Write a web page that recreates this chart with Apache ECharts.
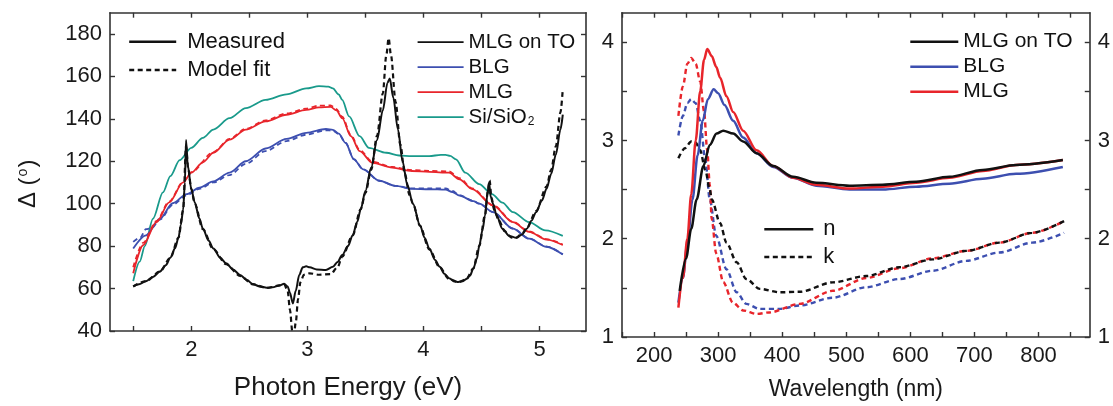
<!DOCTYPE html>
<html>
<head>
<meta charset="utf-8">
<script src="https://cdn.jsdelivr.net/npm/echarts@6/dist/echarts.min.js"></script>
<style>
  html, body { margin: 0; padding: 0; background: #fff; }
  #chart { width: 1113px; height: 406px; }
</style>
</head>
<body>
<div id="chart"></div>
<script>
// ---- left panel: Delta vs photon energy (eV) ----
const energyTicks = [1.5, 2, 2.5, 3, 3.5, 4, 4.5, 5];
const energyLabels = [2, 3, 4, 5];
const deltaTicks = [40, 60, 80, 100, 120, 140, 160, 180];

const mlgOnToMeasured = [[1.5,61],[1.55,62],[1.61,63.5],[1.67,65.5],[1.73,68],[1.78,71],[1.82,74.5],[1.86,79],[1.89,84],[1.91,90],[1.93,97],[1.945,110],[1.955,130],[1.97,118],[2.0,107],[2.03,100.6],[2.07,93],[2.1,88.2],[2.15,82.5],[2.19,78.9],[2.25,74.5],[2.3,71.9],[2.36,69],[2.42,66.4],[2.48,64],[2.53,62.1],[2.59,61],[2.65,60.4],[2.7,60.6],[2.76,61.5],[2.8,62.3],[2.83,61],[2.85,58],[2.875,53],[2.9,59],[2.93,66.4],[2.96,70],[2.99,70.5],[3.02,70],[3.08,69],[3.16,68.8],[3.22,70.3],[3.26,72.5],[3.3,75.8],[3.35,80],[3.39,85.1],[3.43,91.5],[3.46,97.5],[3.5,106],[3.55,117],[3.6,130],[3.65,144],[3.69,157],[3.71,159],[3.74,150],[3.78,135],[3.82,120],[3.86,109],[3.91,100],[3.97,89.8],[4.01,84],[4.05,78.9],[4.1,73.5],[4.14,70.3],[4.18,67],[4.22,64.9],[4.27,63.3],[4.3,63.1],[4.34,63.5],[4.37,64.5],[4.4,66],[4.43,69.5],[4.46,74],[4.48,80],[4.51,88],[4.53,94.4],[4.55,104],[4.565,110],[4.58,103],[4.6,100],[4.63,94.4],[4.68,88.2],[4.74,84.8],[4.8,83.9],[4.85,85.5],[4.89,88.2],[4.93,92],[4.97,96],[5.02,101.5],[5.06,107],[5.1,114],[5.14,123],[5.18,135],[5.2,142]];
const mlgOnToFit = [[1.5,61],[1.61,63.5],[1.73,68],[1.82,74.5],[1.89,84],[1.93,97],[1.955,127],[1.975,116],[2.0,107],[2.03,100],[2.1,88],[2.19,78.5],[2.3,71.5],[2.42,66],[2.53,62],[2.65,60.3],[2.76,61.5],[2.8,62],[2.83,59],[2.85,50],[2.87,40],[2.88,36],[2.9,44],[2.92,55],[2.94,63],[2.97,66.5],[3.02,67.2],[3.1,66.5],[3.2,66.8],[3.26,70],[3.3,75],[3.39,85],[3.46,97.5],[3.5,105],[3.55,116],[3.6,132],[3.65,152],[3.68,170],[3.7,178],[3.72,170],[3.76,148],[3.8,128],[3.84,114],[3.88,104],[3.91,100],[3.97,89.5],[4.05,78.5],[4.14,70],[4.22,64.5],[4.3,63],[4.37,64.5],[4.43,69.5],[4.48,80],[4.53,94.5],[4.555,106],[4.57,111],[4.585,103],[4.61,97],[4.65,92],[4.7,87],[4.76,84],[4.8,84],[4.85,86],[4.89,88.5],[4.97,96.5],[5.06,108],[5.1,116],[5.14,127],[5.18,143],[5.2,154]];
const siSio2Measured = [[1.5,63.5],[1.556,72.7],[1.6,80],[1.67,92.9],[1.756,105.3],[1.82,113],[1.9,120.5],[2.0,126.3],[2.1,131],[2.19,134.9],[2.33,140.3],[2.47,145],[2.64,148.9],[2.82,151.5],[2.99,154.3],[3.1,155.4],[3.18,155.2],[3.22,154.3],[3.27,151.5],[3.3,148.9],[3.36,141.1],[3.45,131.8],[3.53,126.3],[3.68,124],[3.79,122.7],[3.9,122.4],[4.05,122.4],[4.15,123],[4.19,123],[4.23,122.5],[4.28,120.9],[4.36,114.6],[4.48,109.2],[4.59,104.5],[4.68,100.5],[4.77,96],[4.91,91.3],[5.05,87.4],[5.2,84.8]];
const mlgMeasured = [[1.5,67.2],[1.585,80.4],[1.7,91.3],[1.81,100.6],[1.93,110],[2.0,114.6],[2.1,119.5],[2.19,124],[2.33,130.2],[2.47,134.9],[2.64,138.8],[2.82,141.9],[2.99,144.2],[3.1,145.4],[3.2,145.6],[3.25,144],[3.3,140.3],[3.375,131.8],[3.45,124.8],[3.56,119.3],[3.73,117],[3.9,115.4],[4.05,115],[4.22,114.6],[4.31,111.5],[4.42,106.9],[4.6,99.1],[4.77,91.3],[4.91,86.7],[5.06,83.1],[5.2,80.5]];
const mlgFit = [[1.5,70],[1.585,81.5],[1.7,91.8],[1.81,101],[1.93,110.3],[2.0,114.8],[2.19,124.3],[2.33,130.5],[2.47,135.3],[2.64,139.3],[2.82,142.5],[2.99,144.8],[3.1,146.2],[3.2,146.3],[3.25,144.6],[3.3,141],[3.375,132.3],[3.45,125.3],[3.56,119.8],[3.73,117.3],[3.9,115.8],[4.05,115.5],[4.22,115.2],[4.31,112],[4.42,107.2],[4.6,99.3],[4.77,91.5],[4.91,86.9],[5.06,83.3],[5.2,80.7]];
const blgMeasured = [[1.5,78.9],[1.61,85.1],[1.73,92.9],[1.84,100.2],[1.96,104.5],[2.07,107.5],[2.19,110.5],[2.33,114.6],[2.47,120],[2.64,126],[2.82,130.5],[2.99,133.4],[3.16,135.2],[3.22,134.8],[3.27,133],[3.33,128.6],[3.4,120.9],[3.48,116.2],[3.62,110.8],[3.76,108.4],[3.9,107],[4.05,106.8],[4.19,106.6],[4.25,105.5],[4.31,103.8],[4.43,101.2],[4.48,100],[4.6,96],[4.77,88.2],[4.91,83.5],[5.06,79.7],[5.2,76]];
const blgFit = [[1.5,82],[1.56,84],[1.61,88],[1.66,88.5],[1.73,92.5],[1.84,99.5],[1.96,104],[2.07,107],[2.19,110],[2.33,113.5],[2.47,118.8],[2.64,124.8],[2.82,129.5],[2.99,132.5],[3.16,134.6],[3.22,134.4],[3.27,132.8],[3.33,128.6],[3.4,121],[3.48,116.2],[3.62,110.8],[3.76,108.4],[3.9,107.2],[4.05,107.2],[4.19,107.2],[4.25,106],[4.31,104],[4.43,101.3],[4.48,100],[4.6,96],[4.77,88.3],[4.91,83.6],[5.06,79.8],[5.2,76.2]];

// ---- right panel: n and k vs wavelength (nm) ----
const wlTicks = [150, 200, 250, 300, 350, 400, 450, 500, 550, 600, 650, 700, 750, 800, 850];
const wlLabels = [200, 300, 400, 500, 600, 700, 800];
const nkTicks = [1, 1.5, 2, 2.5, 3, 3.5, 4];
const nkLabels = [1, 2, 3, 4];

const nMlgOnTo = [[240,1.47],[250,1.8],[258,2.1],[266.5,2.4],[277,2.74],[287,2.955],[297.6,3.07],[308,3.1],[323.5,3.07],[339,2.99],[360,2.87],[386,2.74],[417,2.63],[453,2.57],[505,2.54],[557,2.55],[609,2.58],[661,2.63],[713,2.7],[765,2.75],[838,2.8]];
const nBlg = [[238,1.35],[245,1.6],[252,1.95],[260,2.4],[268,2.85],[276,3.2],[284,3.42],[293,3.52],[300,3.48],[310,3.36],[323.5,3.2],[339,3.03],[360,2.87],[386,2.73],[417,2.62],[453,2.54],[505,2.5],[557,2.5],[609,2.53],[661,2.56],[713,2.61],[765,2.66],[838,2.73]];
const nMlg = [[238,1.3],[245,1.6],[252,2.0],[258,2.45],[265,3.0],[272,3.5],[278,3.82],[283,3.93],[290,3.86],[297,3.75],[303,3.64],[313,3.45],[323.5,3.29],[339,3.1],[360,2.9],[386,2.74],[417,2.62],[453,2.55],[505,2.51],[557,2.53],[609,2.57],[661,2.62],[713,2.69],[765,2.75],[838,2.8]];
const kMlgOnTo = [[238,2.82],[248,2.92],[258,2.99],[265,2.98],[272,2.9],[280,2.7],[287,2.5],[290,2.4],[303,2.16],[313,1.96],[329,1.76],[344,1.59],[365,1.49],[396,1.455],[427,1.46],[479,1.556],[531,1.62],[583,1.71],[635,1.79],[687,1.876],[739,1.96],[790,2.06],[840,2.18]];
const kBlg = [[238,3.05],[245,3.25],[252,3.38],[258,3.42],[265,3.38],[272,3.2],[280,2.8],[287,2.4],[297,2.03],[313,1.69],[329,1.455],[344,1.337],[365,1.286],[396,1.286],[427,1.32],[479,1.4],[531,1.506],[583,1.59],[635,1.674],[687,1.775],[739,1.86],[790,1.96],[840,2.06]];
const kMlg = [[238,3.25],[245,3.55],[252,3.78],[258,3.84],[265,3.78],[272,3.6],[278,3.3],[283,2.9],[287,2.55],[290,2.2],[297,1.85],[308,1.56],[323,1.35],[339,1.27],[360,1.235],[380,1.25],[427,1.337],[479,1.47],[531,1.6],[583,1.7],[635,1.8],[687,1.876],[739,1.96],[790,2.06],[840,2.18]];

const FONT = '"Liberation Sans", Arial, sans-serif';
const AXIS_COLOR = '#333';
const BLACK = '#111';
const BLUE = '#3d4fb0';
const RED = '#e8252b';
const TEAL = '#199a8b';

function makeAxis(gridIndex, position, min, max, ticks, labels, extra) {
  return Object.assign({
    type: 'value', gridIndex, position, min, max,
    axisLine: { show: true, onZero: false, lineStyle: { color: AXIS_COLOR, width: 1.6 } },
    axisTick: { show: true, inside: true, length: 5, customValues: ticks, lineStyle: { color: AXIS_COLOR, width: 1.4 } },
    axisLabel: labels
      ? { show: true, customValues: labels, fontSize: 22, color: '#1a1a1a', fontFamily: FONT, margin: 8 }
      : { show: false },
    splitLine: { show: false }
  }, extra || {});
}

function line(name, data, color, width, dashed, grid) {
  return {
    name, type: 'line', data,
    xAxisIndex: grid * 2, yAxisIndex: grid * 2,
    symbol: 'none', showSymbol: false, silent: true,
    smooth: 0.3, smoothMonotone: 'x',
    lineStyle: { color, width, type: dashed ? [5, 3.5] : 'solid' },
    itemStyle: { color }
  };
}

// legend keys show only the line sample, no marker
const legendBase = { orient: 'vertical', padding: 0, itemHeight: 14, selectedMode: false, itemStyle: { opacity: 0 } };

const chart = echarts.init(document.getElementById('chart'));

chart.setOption({
  animation: false,
  backgroundColor: '#fff',
  grid: [
    { left: 110, top: 12.7, width: 476, height: 320.6 },
    { left: 622, top: 12.7, width: 468, height: 325.6 }
  ],
  xAxis: [
    makeAxis(0, 'bottom', 1.3, 5.4, energyTicks, energyLabels, {
      name: 'Photon Energy (eV)', nameLocation: 'middle', nameGap: 44,
      nameTextStyle: { fontSize: 26, color: '#1a1a1a', fontFamily: FONT }
    }),
    makeAxis(0, 'top', 1.3, 5.4, energyTicks, null),
    makeAxis(1, 'bottom', 150, 880, wlTicks, wlLabels, {
      name: 'Wavelength (nm)', nameLocation: 'middle', nameGap: 41,
      nameTextStyle: { fontSize: 23, color: '#1a1a1a', fontFamily: FONT }
    }),
    makeAxis(1, 'top', 150, 880, wlTicks, null)
  ],
  yAxis: [
    makeAxis(0, 'left', 40, 190, deltaTicks, deltaTicks, {
      name: 'Δ ({sup|o})', nameLocation: 'middle', nameGap: 70,
      nameTextStyle: {
        fontSize: 24, color: '#1a1a1a', fontFamily: FONT, padding: [0, 24, 0, 0],
        rich: { sup: { fontSize: 14, color: '#1a1a1a', fontFamily: FONT, verticalAlign: 'top', padding: [0, 1, 10, 1] } }
      }
    }),
    makeAxis(0, 'right', 40, 190, deltaTicks, null),
    makeAxis(1, 'left', 1, 4.3, nkTicks, nkLabels),
    makeAxis(1, 'right', 1, 4.3, nkTicks, nkLabels)
  ],
  legend: [
    Object.assign({}, legendBase, {
      data: ['Measured', 'Model fit'], left: 128, top: 30.7, itemWidth: 47, itemGap: 6.3,
      lineStyle: { width: 2.4 },
      textStyle: { fontSize: 22, lineHeight: 22, color: BLACK, fontFamily: FONT, padding: [0, 0, 0, 6] }
    }),
    Object.assign({}, legendBase, {
      data: ['MLG on TO', 'BLG', 'MLG', 'Si/SiO2'], left: 416.7, top: 31.7, itemWidth: 46, itemGap: 4,
      lineStyle: { width: 1.8 },
      formatter: name => name === 'Si/SiO2' ? 'Si/SiO{sub|2}' : name,
      textStyle: {
        fontSize: 20.5, lineHeight: 20, color: BLACK, fontFamily: FONT,
        rich: { sub: { fontSize: 12, color: BLACK, fontFamily: FONT, verticalAlign: 'bottom', padding: [10, 0, 0, 1] } }
      }
    }),
    Object.assign({}, legendBase, {
      data: ['n: MLG on TO', 'n: BLG', 'n: MLG'], left: 909, top: 31.2, itemWidth: 48, itemGap: 4,
      lineStyle: { width: 2.6 },
      formatter: name => name.replace('n: ', ''),
      textStyle: { fontSize: 21, lineHeight: 21, color: BLACK, fontFamily: FONT }
    }),
    Object.assign({}, legendBase, {
      data: ['n', 'k'], left: 763, top: 218.3, itemWidth: 49, itemGap: 5.7,
      lineStyle: { width: 2.6 },
      textStyle: { fontSize: 22, lineHeight: 22, color: BLACK, fontFamily: FONT, padding: [0, 0, 0, 5] }
    })
  ],
  series: [
    // legend-only keys
    line('Measured', [], BLACK, 2.4, false, 0),
    line('Model fit', [], BLACK, 2.4, true, 0),
    line('n', [], BLACK, 2.6, false, 1),
    line('k', [], BLACK, 2.6, true, 1),
    // left panel
    line('Si/SiO2', siSio2Measured, TEAL, 1.8, false, 0),
    line('BLG', blgMeasured, BLUE, 1.8, false, 0),
    line('BLG fit', blgFit, BLUE, 1.8, true, 0),
    line('MLG', mlgMeasured, RED, 1.8, false, 0),
    line('MLG fit', mlgFit, RED, 1.8, true, 0),
    line('MLG on TO', mlgOnToMeasured, BLACK, 2, false, 0),
    line('MLG on TO fit', mlgOnToFit, BLACK, 2.2, true, 0),
    // right panel
    line('k: BLG', kBlg, BLUE, 2.4, true, 1),
    line('k: MLG', kMlg, RED, 2.4, true, 1),
    line('k: MLG on TO', kMlgOnTo, BLACK, 2.4, true, 1),
    line('n: BLG', nBlg, BLUE, 2.5, false, 1),
    line('n: MLG', nMlg, RED, 2.5, false, 1),
    line('n: MLG on TO', nMlgOnTo, BLACK, 2.5, false, 1)
  ]
});
</script>
</body>
</html>
